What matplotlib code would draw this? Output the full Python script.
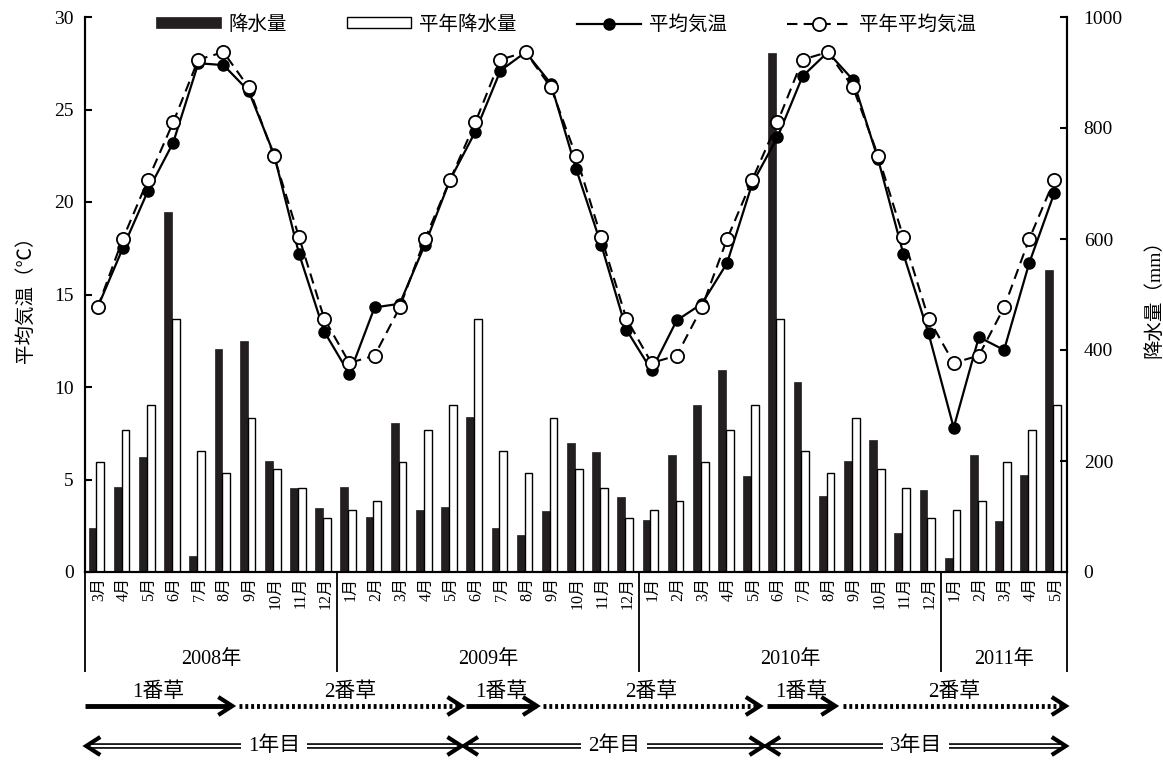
import numpy as np
import matplotlib
matplotlib.use("Agg")
import matplotlib.pyplot as plt

plt.rcParams['font.family'] = ['Liberation Serif', 'Noto Sans CJK JP']

# --- data (2008-03 .. 2011-05) ---
month_nums = [3, 4, 5, 6, 7, 8, 9, 10, 11, 12,
              1, 2, 3, 4, 5, 6, 7, 8, 9, 10, 11, 12,
              1, 2, 3, 4, 5, 6, 7, 8, 9, 10, 11, 12,
              1, 2, 3, 4, 5]
years = ['2008年', '2009年', '2010年', '2011年']
year_bounds = [-0.5, 9.5, 21.5, 33.5, 38.5]

rain = [80, 153, 208, 649, 29, 401, 417, 200, 151, 115,
        154, 100, 269, 112, 118, 280, 79, 66, 110, 232, 216, 136,
        94, 210, 301, 364, 173, 935, 343, 137, 200, 238, 70, 148,
        26, 210, 91, 175, 544]
rain_normal = [198, 256, 301, 455, 218, 179, 277, 185, 152, 98,
               112, 128, 198, 256, 301, 455, 218, 179, 277, 185, 152, 98,
               112, 128, 198, 256, 301, 455, 218, 179, 277, 185, 152, 98,
               112, 128, 198, 256, 301]
temp = [14.3, 17.5, 20.6, 23.2, 27.5, 27.4, 26.0, 22.6, 17.2, 13.0,
        10.7, 14.3, 14.5, 17.7, 21.2, 23.8, 27.1, 28.1, 26.4, 21.8, 17.7, 13.1,
        10.9, 13.6, 14.5, 16.7, 21.0, 23.5, 26.8, 28.1, 26.6, 22.3, 17.2, 12.9,
        7.8, 12.7, 12.0, 16.7, 20.5]
temp_normal = [14.3, 18.0, 21.2, 24.3, 27.7, 28.1, 26.2, 22.5, 18.1, 13.7,
               11.3, 11.7, 14.3, 18.0, 21.2, 24.3, 27.7, 28.1, 26.2, 22.5, 18.1, 13.7,
               11.3, 11.7, 14.3, 18.0, 21.2, 24.3, 27.7, 28.1, 26.2, 22.5, 18.1, 13.7,
               11.3, 11.7, 14.3, 18.0, 21.2]

# harvest periods (month index coords) and labels
cut_labels = ['1番草', '2番草', '1番草', '2番草', '1番草', '2番草']
cut_start = [-0.5, 5.6, 14.65, 17.7, 26.6, 29.6]
cut_end = [5.35, 14.45, 17.45, 26.3, 29.3, 38.45]
cut_solid = [True, False, True, False, True, False]
season_labels = ['1年目', '2年目', '3年目']
season_start = [-0.5, 14.5, 26.5]
season_end = [14.5, 26.5, 38.5]

W, H = 1163, 760
x = np.arange(len(month_nums))

fig = plt.figure(figsize=(W / 100, H / 100), dpi=100)
L, R, T, B = 85, 1067, 17, 572
ax = fig.add_axes([L / W, (H - B) / H, (R - L) / W, (B - T) / H])
ax2 = ax.twinx()

# bars (right axis)
bw = 0.31
b1 = ax2.bar(x - 0.2, rain, width=bw, color='#231f20', edgecolor='#231f20', lw=0.5)
b2 = ax2.bar(x + 0.11, rain_normal, width=bw, color='white', edgecolor='black', lw=1.0)
ax2.set_ylim(0, 1000)
ax2.set_yticks(range(0, 1001, 200))

# temperature lines (left axis, drawn above bars)
ax.set_zorder(ax2.get_zorder() + 1)
ax.patch.set_visible(False)
l1, = ax.plot(x, temp, '-o', color='black', lw=1.6, ms=8, mfc='black', mec='black')
l2, = ax.plot(x, temp_normal, '--o', color='black', lw=1.5, ms=9.5, mfc='white',
              mec='black', mew=1.3, dashes=(5, 3))
ax.set_ylim(0, 30)
ax.set_yticks(range(0, 31, 5))
ax.set_xlim(-0.5, len(month_nums) - 0.5)
ax.set_xticks([])

for a in (ax, ax2):
    a.spines['top'].set_visible(False)
    for s in ('left', 'right', 'bottom'):
        a.spines[s].set_linewidth(1.5)
    a.tick_params(axis='y', direction='in', length=5, width=1.5, labelsize=14, pad=8)
ax2.tick_params(axis='y', pad=12)

ax.set_ylabel('平均気温（℃）', fontsize=14, labelpad=14)
ax2.set_ylabel('降水量（mm）', fontsize=14, rotation=90, labelpad=16)

ax.legend([b1, b2, l1, l2], ['降水量', '平年降水量', '平均気温', '平年平均気温'],
          ncol=4, loc='upper center', bbox_to_anchor=(0.49, 1.035), frameon=False,
          fontsize=14, handlelength=3.3, handleheight=0.5, handletextpad=0.4,
          columnspacing=3.1)

# --- bottom annotation area, y in pixel units ---
axb = fig.add_axes([L / W, 0, (R - L) / W, (H - B) / H])
axb.set_xlim(-0.5, len(month_nums) - 0.5)
axb.set_ylim(H, B)
axb.axis('off')

for i, m in enumerate(month_nums):
    axb.text(i + 0.05, 577, f'{m}月', rotation=90, ha='center', va='top', fontsize=11.5)
axb.vlines(year_bounds, B, 672, color='black', lw=1.3, clip_on=False)
for k, y in enumerate(years):
    axb.text((year_bounds[k] + year_bounds[k + 1]) / 2, 660, y,
             ha='center', va='center', fontsize=14.5)

px = (R - L) / len(month_nums)  # pixels per month


def chevron(xe, y, direction, lw):
    dx = 14 / px * direction
    axb.plot([xe - dx, xe, xe - dx], [y - 9, y, y + 9], color='black', lw=lw,
             solid_capstyle='butt', solid_joinstyle='miter', clip_on=False)


ya = 706
for lab, s, e, solid in zip(cut_labels, cut_start, cut_end, cut_solid):
    if solid:
        axb.plot([s, e - 0.05], [ya, ya], color='black', lw=3.5, clip_on=False,
                 solid_capstyle='butt')
    else:
        axb.plot([s, e - 0.05], [ya, ya], color='black', lw=3.5, clip_on=False,
                 linestyle=(0, (0.6, 0.6)), dash_capstyle='butt')
    chevron(e, ya, 1, 3)
    axb.text((s + e) / 2, 692, lab, ha='center', va='center', fontsize=15)

ys = 746
for lab, s, e in zip(season_labels, season_start, season_end):
    axb.plot([s + 0.1, e - 0.1], [ys, ys], color='black', lw=4.0, clip_on=False,
             solid_capstyle='butt')
    axb.plot([s + 0.1, e - 0.1], [ys, ys], color='white', lw=1.6, clip_on=False,
             solid_capstyle='butt')
    chevron(s + 0.05, ys, -1, 3)
    chevron(e - 0.05, ys, 1, 3)
    axb.text((s + e) / 2, ys, lab, ha='center', va='center', fontsize=15,
             bbox=dict(facecolor='white', edgecolor='none', pad=5))

fig.savefig('out.png', dpi=100)
